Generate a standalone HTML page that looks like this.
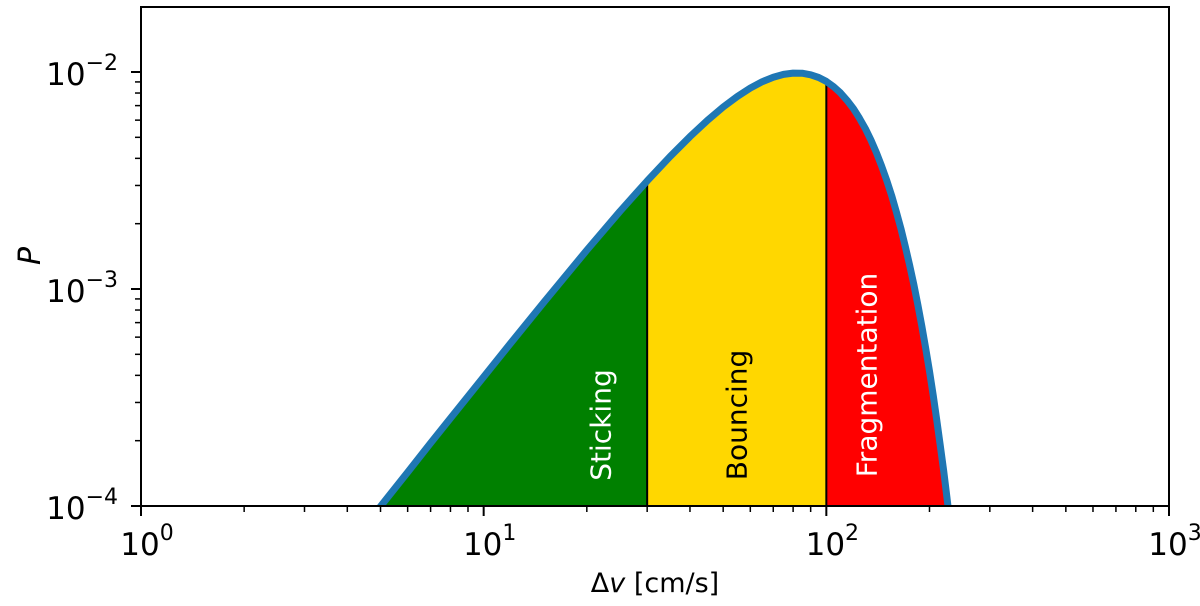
<!DOCTYPE html>
<html><head><meta charset="utf-8">
<style>
html,body{margin:0;padding:0;background:#fff;width:1200px;height:606px;overflow:hidden}
svg text{font-family:"DejaVu Sans","Liberation Sans",sans-serif}
</style></head>
<body>
<svg id="chart" width="1200" height="606" xmlns="http://www.w3.org/2000/svg">
<defs><clipPath id="plotclip"><rect x="141" y="7" width="1028" height="499"/></clipPath></defs>
<g id="fills" clip-path="url(#plotclip)"></g>
<g id="lines" clip-path="url(#plotclip)"></g>
<g id="axes"></g>
</svg>
<script>
const velocities = [4, 5, 6, 7, 8, 10, 12, 15, 20, 25, 30, 35, 40, 45, 50, 55, 60, 65, 70, 75, 80, 85, 90, 95, 100, 105, 110, 115, 120, 125, 130, 135, 140, 145, 150, 155, 160, 165, 170, 175, 180, 185, 190, 195, 200, 205, 210, 215, 220, 225, 230, 240];
const probabilities = [6.4e-5, 9.96e-5, 1.43e-4, 1.95e-4, 2.54e-4, 3.94e-4, 5.64e-4, 8.70e-4, 1.51e-3, 2.28e-3, 3.15e-3, 4.08e-3, 5.04e-3, 5.99e-3, 6.90e-3, 7.72e-3, 8.43e-3, 9.02e-3, 9.45e-3, 9.75e-3, 9.88e-3, 9.87e-3, 9.71e-3, 9.43e-3, 9.05e-3, 8.56e-3, 8.01e-3, 7.40e-3, 6.77e-3, 6.12e-3, 5.48e-3, 4.85e-3, 4.25e-3, 3.69e-3, 3.17e-3, 2.70e-3, 2.27e-3, 1.90e-3, 1.57e-3, 1.29e-3, 1.05e-3, 8.43e-4, 6.72e-4, 5.33e-4, 4.18e-4, 3.24e-4, 2.50e-4, 1.91e-4, 1.45e-4, 1.09e-4, 8.1e-5, 4.3e-5];
const regionNames = ["Sticking", "Bouncing", "Fragmentation"];
const regionBounds = [1, 30, 100, 1000];
const regionColors = ["#008000", "#ffd700", "#ff0000"];
const regionTextColors = ["#ffffff", "#000000", "#ffffff"];
const xTickLabels = ["0", "1", "2", "3"];
const yTickExps = ["-4", "-3", "-2"];

const NS = "http://www.w3.org/2000/svg";
const L = 141, R = 1169, T = 7, B = 506;
const xDec = (R - L) / 3;
const yDec = 217;
const xs = v => L + Math.log10(v) * xDec;
const ys = p => B - (Math.log10(p) + 4) * yDec;
function mk(tag, attrs, parent) {
  const e = document.createElementNS(NS, tag);
  for (const k in attrs) e.setAttribute(k, attrs[k]);
  parent.appendChild(e);
  return e;
}
function interp(v) {
  for (let i = 0; i < velocities.length - 1; i++) {
    if (v >= velocities[i] && v <= velocities[i + 1]) {
      const a = Math.log10(velocities[i]), b = Math.log10(velocities[i + 1]);
      const t = (Math.log10(v) - a) / (b - a);
      return Math.pow(10, Math.log10(probabilities[i]) * (1 - t) + Math.log10(probabilities[i + 1]) * t);
    }
  }
  return 1e-6;
}
const fills = document.getElementById('fills');
const lines = document.getElementById('lines');
const axes = document.getElementById('axes');

for (let r = 0; r < regionNames.length; r++) {
  const lo = regionBounds[r], hi = regionBounds[r + 1];
  let pts = [];
  const vs = velocities.filter(v => v > lo && v < hi);
  const lov = Math.max(lo, velocities[0]), hiv = Math.min(hi, velocities[velocities.length - 1]);
  const all = [lov, ...vs, hiv];
  all.forEach(v => pts.push(xs(v).toFixed(1) + "," + ys(interp(v)).toFixed(1)));
  pts.push(xs(hiv).toFixed(1) + "," + (B + 10));
  pts.push(xs(lov).toFixed(1) + "," + (B + 10));
  const poly = mk('polygon', {points: pts.join(" "), fill: regionColors[r]}, fills);
  
  
}
[30, 100].forEach(v => {
  const ln = mk('line', {x1: xs(v), x2: xs(v), y1: B, y2: ys(interp(v)), stroke: "#000", "stroke-width": 2}, lines);
  
  
});
const cp = velocities.map((v, i) => xs(v).toFixed(1) + "," + ys(probabilities[i]).toFixed(1)).join(" ");
const curve = mk('polyline', {points: cp, fill: "none", stroke: "#1f77b4", "stroke-width": 7, "stroke-linejoin": "round"}, lines);



const labelPos = [[601, 425], [737, 415], [867, 375]];
regionNames.forEach((n, i) => {
  const t = mk('text', {x: 0, y: 0, transform: `translate(${labelPos[i][0]},${labelPos[i][1]}) rotate(-90)`, "text-anchor": "middle", "dominant-baseline": "central", "font-size": 28, fill: regionTextColors[i]}, axes);
  t.textContent = n;
  
  
});

const frame = mk('rect', {x: L, y: T, width: R - L, height: B - T, fill: "none", stroke: "#000", "stroke-width": 2}, axes);



for (let d = 0; d < 3; d++) {
  for (let m = 2; m < 10; m++) {
    const x = xs(m * Math.pow(10, d));
    mk('line', {x1: x, x2: x, y1: B, y2: B + 6, stroke: "#000", "stroke-width": 1.5}, axes);
  }
}
xTickLabels.forEach((e, i) => {
  const x = xs(Math.pow(10, +e));
  mk('line', {x1: x, x2: x, y1: B, y2: B + 10, stroke: "#000", "stroke-width": 2}, axes);
  const t = mk('text', {x: x + 6, y: 555, "text-anchor": "middle", "font-size": 31}, axes);
  t.innerHTML = '10<tspan dy="-15" font-size="22">' + e + '</tspan>';
  
  
});
for (let d = -4; d < -1; d++) {
  for (let m = 2; m < 10; m++) {
    const y = ys(m * Math.pow(10, d));
    if (y < T) continue;
    mk('line', {x1: L - 6, x2: L, y1: y, y2: y, stroke: "#000", "stroke-width": 1.5}, axes);
  }
}
yTickExps.forEach(e => {
  const y = ys(Math.pow(10, +e));
  mk('line', {x1: L - 10, x2: L, y1: y, y2: y, stroke: "#000", "stroke-width": 2}, axes);
  const t = mk('text', {x: 118, y: y + 13, "font-size": 31, "text-anchor": "end"}, axes);
  t.innerHTML = '10<tspan dy="-15" font-size="22">\u2212' + e.slice(1) + '</tspan>';
  
  
});
const xt = mk('text', {x: 655, y: 592, "text-anchor": "middle", "font-size": 27}, axes);
xt.innerHTML = 'Δ<tspan font-style="italic">v</tspan> [cm/s]';


const yt = mk('text', {x: 0, y: 0, transform: "translate(40,256) rotate(-90)", "text-anchor": "middle", "font-size": 30, "font-style": "italic", "font-family": "Liberation Serif, serif"}, axes);
yt.textContent = 'P';


</script>
</body></html>
